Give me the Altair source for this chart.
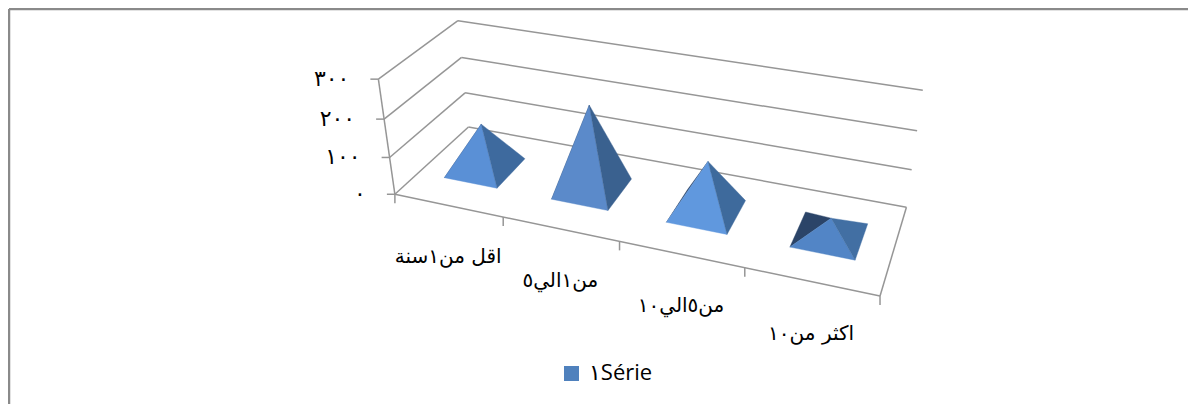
import numpy as np
import altair as alt

categories = ["اقل من١سنة", "من١الي٥", "من٥الي١٠", "اكثر من١٠"]
values = [122, 223, 132, 45]
tick_values = [0, 100, 200, 300]
tick_labels = ["٠", "١٠٠", "٢٠٠", "٣٠٠"]
series_name = "١Série"

# Camera calibration of the 3D box: (category pos, depth, value) -> page pixel
CAL_3D = [(0,0,0),(4,0,0),(4,1,0),(0,1,0),(0,0,100),(0,0,200),(0,0,300),
          (0,1,100),(0,1,200),(0,1,300),(4,1,100),(4,1,200),(4,1,300)]
CAL_2D = [(395,194),(880,296),(906,207),(468,127),(390,158),(384,119),(378,79),
          (465,93),(462,57),(458,21),(912,170),(918,131),(922,90)]
rows = []
for (u, d, v), (x, y) in zip(CAL_3D, CAL_2D):
    X = [u / 4, d, v / 300, 1]
    rows.append(X + [0, 0, 0, 0] + [-x * a for a in X])
    rows.append([0, 0, 0, 0] + X + [-y * a for a in X])
CAM = np.linalg.svd(np.array(rows, float))[2][-1].reshape(3, 4)


def proj(u, d, v):
    p = CAM @ np.array([u / 4, d, v / 300, 1.0])
    return float(p[0] / p[2]), float(p[1] / p[2])


GRID = "#969696"
FACE_BACK = "#2b4468"
FACE_FRONT = ["#5a90d6", "#5b8aca", "#6098de", "#5285c6"]
FACE_SIDE = ["#3e6a9e", "#3a618f", "#3e6a9c", "#426fa3"]
U0, U1, D0, D1 = 0.25, 0.75, 0.30, 0.72


def feature(points, color):
    ring = [list(p) for p in points]
    ring.append(ring[0])
    return {"type": "Feature", "properties": {"c": color},
            "geometry": {"type": "Polygon", "coordinates": [ring]}}


left, front, side = [], [], []
for i, val in enumerate(values):
    lf, rf = proj(i + U0, D0, 0), proj(i + U1, D0, 0)
    rb, lb = proj(i + U1, D1, 0), proj(i + U0, D1, 0)
    apex = proj(i + (U0 + U1) / 2, (D0 + D1) / 2, val)
    left.append(feature([lf, lb, apex], FACE_BACK))
    front.append(feature([lf, rf, apex], FACE_FRONT[i]))
    side.append(feature([rf, rb, apex], FACE_SIDE[i]))

W, H = 1180, 396
xs = alt.Scale(domain=[8, 8 + W], range=[0, W])
ys = alt.Scale(domain=[8 + H, 8], range=[H, 0])


def seg(a, b):
    return {"x": a[0], "y": a[1], "x2": b[0], "y2": b[1]}


def rules(segs, color, width):
    return alt.Chart(alt.Data(values=segs)).mark_rule(color=color, strokeWidth=width).encode(
        x=alt.X("x:Q", scale=xs, axis=None), y=alt.Y("y:Q", scale=ys, axis=None),
        x2="x2:Q", y2="y2:Q")


grid = []
for t in tick_values:
    grid.append(seg(proj(0, 0, t), proj(0, 1, t)))
    grid.append(seg(proj(0, 1, t), proj(4, 1, t)))
grid.append(seg(proj(0, 0, 0), proj(0, 0, tick_values[-1])))
grid.append(seg(proj(0, 0, 0), proj(4, 0, 0)))
grid.append(seg(proj(4, 0, 0), proj(4, 1, 0)))

ticks = []
for t in tick_values:
    x, y = proj(0, 0, t)
    ticks.append(seg((x - 8, y), (x, y)))
for i in range(len(categories) + 1):
    x, y = proj(i, 0, 0)
    ticks.append(seg((x, y), (x, y + 9)))

border = [seg((9, 9), (8 + W, 9)), seg((9, 9), (9, 8 + H))]


def faces(feats):
    return alt.Chart(alt.Data(values=feats)).mark_geoshape(strokeWidth=0.4).encode(
        fill=alt.Color("properties.c:N", scale=None),
        stroke=alt.Color("properties.c:N", scale=None)).project(type="identity", scale=1, translate=[-8, -8])


FONT = "DejaVu Sans"
cat_rows = [dict(zip("xy", proj(i + 0.5, 0, 0)), t=c) for i, c in enumerate(categories)]
val_rows = [dict(zip("xy", proj(0, 0, t)), t=l) for t, l in zip(tick_values, tick_labels)]


def texts(data, font=FONT, **kw):
    return alt.Chart(alt.Data(values=data)).mark_text(font=font, color="#000000", baseline="middle", **kw).encode(
        x=alt.X("x:Q", scale=xs, axis=None), y=alt.Y("y:Q", scale=ys, axis=None), text="t:N")


cat_text = texts(cat_rows, align="center", dy=52, fontSize=20)
val_text = texts(val_rows, align="right", dx=-29, fontSize=22)
leg_sq = alt.Chart(alt.Data(values=[{"x": 571.5, "y": 373.5}])).mark_square(
    size=225, color="#4f81bd", opacity=1, filled=True).encode(
    x=alt.X("x:Q", scale=xs, axis=None), y=alt.Y("y:Q", scale=ys, axis=None))
leg_text = texts([{"x": 589, "y": 373, "t": series_name}], font="Open Sans, DejaVu Sans", align="left", fontSize=22)

chart = alt.layer(
    rules(border, "#8a8a8a", 2.5),
    rules(grid, GRID, 1.5),
    rules(ticks, GRID, 1.5),
    faces(left), faces(front), faces(side),
    cat_text, val_text, leg_sq, leg_text,
).properties(width=W, height=H, padding=0,
             autosize=alt.AutoSizeParams(type="none")
).configure_view(stroke=None)

chart.save("out.html", embed_options={"renderer": "svg", "actions": False})
